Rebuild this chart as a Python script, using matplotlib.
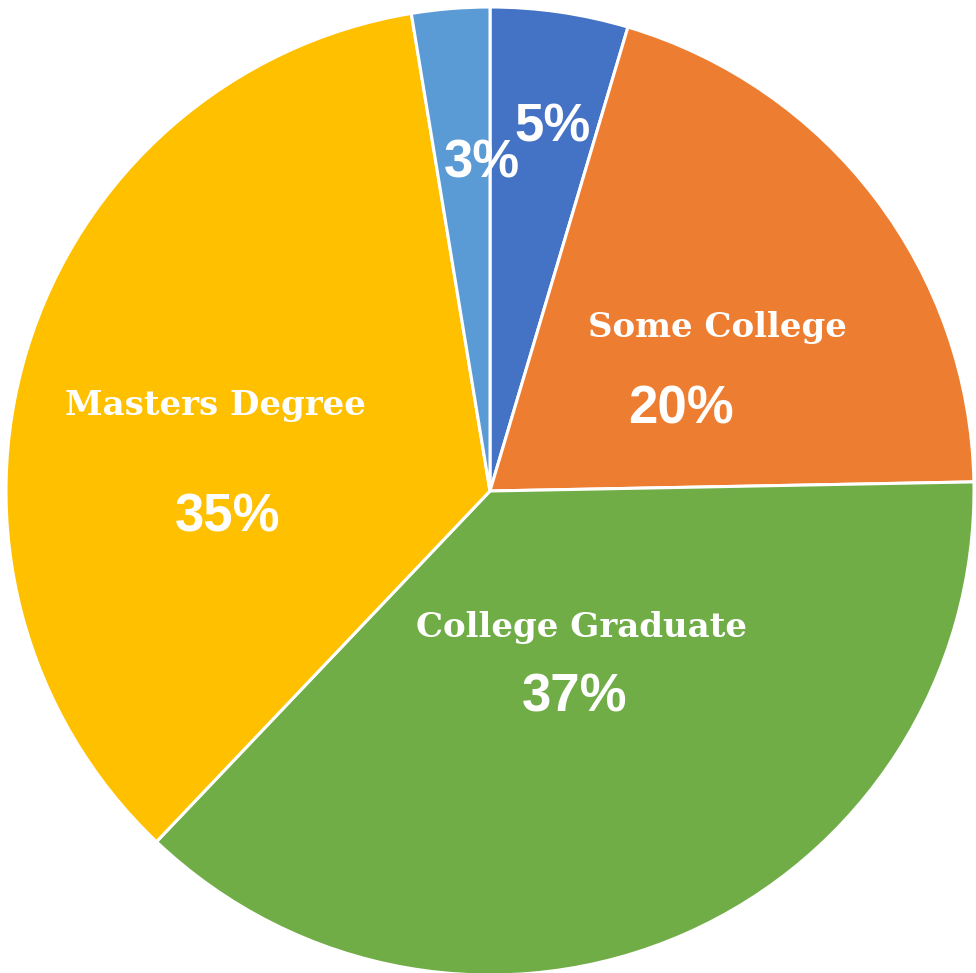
import matplotlib.pyplot as plt

# --- data (clockwise from 12 o'clock) ---
categories = ["", "Some College", "College Graduate", "Masters Degree", ""]
shares = [4.6, 20.1, 37.4, 35.3, 2.6]
colors = ["#4472C4", "#ED7D31", "#70AD47", "#FFC000", "#5B9BD5"]

# label spots in pixels of the 976x973 picture (Excel-style hand-placed labels)
name_px = [None, (717, 328), (582, 627), (215, 405), None]
pct_px = [(553, 128), (681, 410), (575, 698), (228, 518), (482, 163)]

W, H = 976, 973
CX, CY, R = 490, 491, 484


def to_data(p):
    return (p[0] - CX) / R, (CY - p[1]) / R


fig = plt.figure(figsize=(W / 100, H / 100), dpi=100)
ax = fig.add_axes([0, 0, 1, 1])
ax.pie(shares, colors=colors, startangle=90, counterclock=False,
       wedgeprops=dict(edgecolor="white", linewidth=2.2))
ax.set_xlim(-CX / R, (W - CX) / R)
ax.set_ylim(-(H - CY) / R, CY / R)
ax.set_aspect("equal")
ax.axis("off")

for name, share, npos, ppos in zip(categories, shares, name_px, pct_px):
    if name and npos:
        x, y = to_data(npos)
        ax.text(x, y, name, ha="center", va="center", color="white",
                fontsize=24.5, fontweight="bold", family="DejaVu Serif")
    x, y = to_data(ppos)
    ax.text(x, y, f"{share:.0f}%", ha="center", va="center", color="white",
            fontsize=38, fontweight="bold", family="Liberation Sans")

fig.savefig("out.png", dpi=100)
